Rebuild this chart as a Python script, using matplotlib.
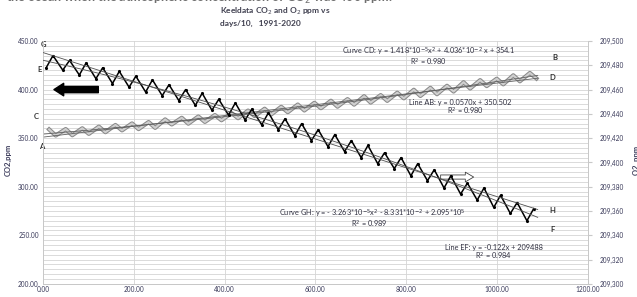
import numpy as np
import matplotlib
matplotlib.use("Agg")
import matplotlib.pyplot as plt
from matplotlib.ticker import FuncFormatter, MultipleLocator

plt.rcParams['font.family'] = ['Lato', 'DejaVu Sans']

# years 1991-2020, x axis is days/10 since start of 1991
years = list(range(1991, 2021))

# CO2 (ppm), seasonal maximum (May) and minimum (Sep/Oct) read per year
co2_peak = [359.0, 359.4, 360.2, 361.9, 363.6, 365.2, 366.6, 369.3, 371.0, 372.3,
            373.8, 375.9, 378.4, 380.3, 382.3, 384.6, 386.4, 388.5, 390.2, 393.2,
            394.3, 396.8, 399.8, 401.8, 403.9, 407.6, 409.7, 411.2, 414.7, 417.1]
co2_trough = [352.7, 353.0, 354.4, 356.1, 358.0, 359.3, 360.6, 364.1, 364.9, 366.7,
              368.4, 370.5, 372.7, 374.4, 376.7, 378.5, 380.8, 382.4, 384.5, 386.6,
              388.4, 391.0, 393.4, 395.2, 398.0, 401.1, 403.6, 405.4, 408.5, 411.4]

# O2 (ppm), seasonal minimum (Mar) and maximum (Aug) read per year
o2_trough = [209478, 209476, 209472, 209469, 209465, 209462, 209458, 209455, 209451, 209447,
             209443, 209439, 209435, 209431, 209427, 209422, 209418, 209413, 209409, 209404,
             209399, 209395, 209389, 209385, 209379, 209374, 209369, 209363, 209358, 209352]
o2_peak = [209488, 209484, 209482, 209478, 209475, 209471, 209468, 209464, 209460, 209457,
           209452, 209449, 209444, 209441, 209436, 209432, 209427, 209423, 209418, 209414,
           209408, 209404, 209399, 209394, 209389, 209383, 209379, 209373, 209367, 209362]

eq_cd = "Curve CD: y = 1.418*10$^{-5}$x$^{2}$ + 4.036*10$^{-2}$ x + 354.1"
eq_ab = "Line AB: y = 0.0570x + 350.502"
eq_gh = "Curve GH: y = - 3.263*10$^{-5}$x$^{2}$ - 8.331*10$^{-2}$ + 2.095*10$^{5}$"
eq_ef = "Line EF: y = -0.122x + 209488"

# build the time series (days/10)
yr0 = np.array([(y - 1991) * 36.525 for y in years])
co2_x = np.ravel(np.column_stack([yr0 + 13.5, yr0 + 28.0]))
co2_y = np.ravel(np.column_stack([co2_peak, co2_trough]))
o2_x = np.ravel(np.column_stack([yr0 + 7.0, yr0 + 22.0]))
o2_y = np.ravel(np.column_stack([o2_trough, o2_peak]))

fig = plt.figure(figsize=(6.37, 2.97), dpi=100)
ax = fig.add_axes([0.0675, 0.044, 0.855, 0.818])
ax2 = ax.twinx()

lab = '#3a3a5a'
tick_fs = 4.7

# CO2 on left axis
ax.plot(co2_x, co2_y, color='#8a8a8a', lw=3.0, zorder=3)
ax.plot(co2_x, co2_y, color='#d0d0d0', lw=1.5, zorder=4)
xx = np.linspace(0, 1090, 200)
p1 = np.polyfit(co2_x, co2_y, 1)
p2 = np.polyfit(co2_x, co2_y, 2)
ax.plot(xx, np.polyval(p1, xx), color='#606060', lw=0.6, zorder=5)
ax.plot(xx, np.polyval(p2, xx), color='#606060', lw=0.6, zorder=5)

# O2 on right axis
ax2.plot(o2_x, o2_y, color='black', lw=1.1, marker='.', ms=2.5, zorder=3)
q1 = np.polyfit(o2_x, o2_y, 1)
q2 = np.polyfit(o2_x, o2_y, 2)
ax2.plot(xx, np.polyval(q1, xx), color='#505050', lw=0.6, zorder=4)
ax2.plot(xx, np.polyval(q2, xx), color='#505050', lw=0.6, zorder=4)

ax.set_xlim(0, 1200)
ax.set_ylim(200, 450)
ax2.set_ylim(209300, 209500)

ax.xaxis.set_major_locator(MultipleLocator(200))
ax.yaxis.set_major_locator(MultipleLocator(50))
ax.yaxis.set_minor_locator(MultipleLocator(5))
ax2.yaxis.set_major_locator(MultipleLocator(20))
ax.xaxis.set_major_formatter(FuncFormatter(lambda v, p: f"{v:.2f}"))
ax.yaxis.set_major_formatter(FuncFormatter(lambda v, p: f"{v:.2f}"))
ax2.yaxis.set_major_formatter(FuncFormatter(lambda v, p: f"{v:,.0f}"))

ax.grid(True, which='both', axis='y', color='#d4d4d4', lw=0.6)
ax.grid(True, which='major', axis='x', color='#d4d4d4', lw=0.6)
ax.set_axisbelow(True)

for a in (ax, ax2):
    for s in a.spines.values():
        s.set_color('#c8c8c8')
        s.set_linewidth(0.7)
    a.spines['top'].set_visible(False)
ax.tick_params(axis='both', which='both', length=0, labelsize=tick_fs, labelcolor=lab, pad=2)
ax.tick_params(axis='x', pad=1.5)
ax.tick_params(axis='y', pad=3)
ax2.tick_params(axis='y', length=3, color='#c8c8c8', labelsize=tick_fs, labelcolor=lab, pad=6)

ax.set_ylabel("CO2,ppm", fontsize=5.5, color=lab, fontweight='bold', labelpad=8)
ax.yaxis.set_label_coords(-0.058, 0.51)
ax2.set_ylabel("O2, ppm", fontsize=5.5, color=lab, fontweight='bold')
ax2.yaxis.set_label_coords(1.083, 0.51)

# title and cut-off header line
fig.text(0.345, 0.962, "Keeldata CO$_2$ and O$_2$ ppm vs", fontsize=6.0, fontweight='bold',
         color='#404050', va='center')
fig.text(0.345, 0.922, "days/10,   1991-2020", fontsize=6.0, fontweight='bold',
         color='#404050', va='center')
fig.text(0.01, 1.008, "the ocean when the atmospheric concentration of CO$_2$ was 400 ppm.",
         fontsize=9, color='#707070', va='center', fontweight='bold')

# equations
eq_kw = dict(fontsize=5.3, color='#303040', ha='center', va='center')
ax.text(850, 439, eq_cd, **eq_kw)
ax.text(850, 428, "R$^2$ = 0.980", **eq_kw)
ax.text(920, 387, eq_ab, **eq_kw)
ax.text(930, 378, "R$^2$ = 0.980", **eq_kw)
ax.text(725, 272.5, eq_gh, **eq_kw)
ax.text(720, 261.5, "R$^2$ = 0.989", **eq_kw)
ax.text(993, 237, eq_ef, **eq_kw)
ax.text(993, 228, "R$^2$ = 0.984", **eq_kw)

# point letters
let_kw = dict(fontsize=5.5, fontweight='bold', color='#303030', ha='center', va='center',
              clip_on=False)
ax.text(2, 446, "G", **let_kw)
ax.text(-7, 421, "E", **let_kw)
ax.text(-14, 372, "C", **let_kw)
ax.text(-4, 341, "A", **let_kw)
ax.text(1128, 433.5, "B", **let_kw)
ax.text(1123, 412, "D", **let_kw)
ax.text(1123, 276, "H", **let_kw)
ax.text(1123, 255.5, "F", **let_kw)

# arrows
ax.annotate("", xy=(18, 400), xytext=(128, 400),
            arrowprops=dict(arrowstyle='simple,head_width=0.9,head_length=0.7,tail_width=0.45',
                            color='black'))
ax.annotate("", xy=(955, 310), xytext=(870, 310),
            arrowprops=dict(arrowstyle='simple,head_width=0.7,head_length=0.6,tail_width=0.3',
                            fc='white', ec='#404040', lw=0.6))

fig.savefig("out.png", dpi=100)
